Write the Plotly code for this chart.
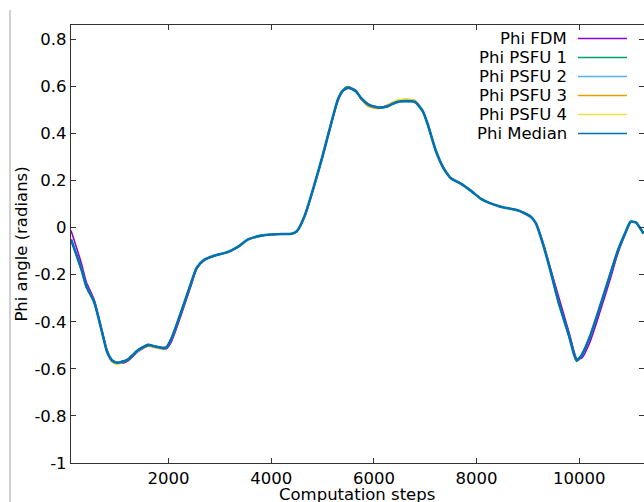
import plotly.graph_objects as go

# ---------------- data ----------------
steps = [100, 300, 400, 550, 700, 800, 900, 1000, 1100, 1200, 1400, 1600, 1800, 1950, 2050,
         2250, 2450, 2550, 2700, 2900, 3150, 3350, 3550, 3800, 4000, 4200, 4400, 4500, 4650,
         4850, 5000, 5200, 5300, 5400, 5500, 5650, 5750, 5900, 6100, 6250, 6450, 6650, 6800,
         6950, 7050, 7200, 7350, 7500, 7700, 7900, 8100, 8450, 8800, 9050, 9150, 9300, 9450,
         9600, 9800, 9900, 9950, 10050, 10200, 10400, 10600, 10750, 10900, 11000, 11100, 11250]

phi_median = [-0.05, -0.175, -0.25, -0.315, -0.44, -0.525, -0.565, -0.574, -0.57, -0.562, -0.522,
              -0.499, -0.508, -0.51, -0.475, -0.355, -0.228, -0.17, -0.136, -0.118, -0.104, -0.082,
              -0.05, -0.034, -0.029, -0.027, -0.026, -0.015, 0.05, 0.19, 0.305, 0.47, 0.545, 0.583,
              0.595, 0.58, 0.55, 0.522, 0.51, 0.515, 0.534, 0.538, 0.534, 0.495, 0.437, 0.33, 0.255,
              0.21, 0.186, 0.155, 0.12, 0.09, 0.074, 0.047, 0.02, -0.075, -0.193, -0.32, -0.46,
              -0.54, -0.565, -0.54, -0.467, -0.337, -0.2, -0.098, -0.02, 0.025, 0.022, -0.025]

phi_fdm = [-0.012, -0.15, -0.232, -0.305, -0.435, -0.52, -0.562, -0.573, -0.576, -0.568, -0.528,
           -0.503, -0.51, -0.515, -0.487, -0.368, -0.238, -0.174, -0.138, -0.119, -0.105, -0.083,
           -0.051, -0.035, -0.029, -0.027, -0.026, -0.017, 0.045, 0.185, 0.3, 0.466, 0.542, 0.581,
           0.593, 0.579, 0.55, 0.522, 0.51, 0.515, 0.533, 0.537, 0.533, 0.497, 0.44, 0.333, 0.257,
           0.211, 0.186, 0.155, 0.121, 0.09, 0.074, 0.048, 0.022, -0.068, -0.182, -0.296, -0.445,
           -0.528, -0.557, -0.554, -0.49, -0.36, -0.22, -0.11, -0.025, 0.024, 0.022, -0.025]

phi_psfu1 = [-0.05, -0.172, -0.252, -0.318, -0.437, -0.528, -0.562, -0.578, -0.566, -0.565, -0.518,
             -0.503, -0.505, -0.514, -0.47, -0.358, -0.225, -0.172, -0.134, -0.12, -0.102, -0.084,
             -0.049, -0.035, -0.028, -0.028, -0.025, -0.016, 0.052, 0.188, 0.307, 0.468, 0.548, 0.587,
             0.6, 0.576, 0.553, 0.518, 0.513, 0.512, 0.537, 0.535, 0.538, 0.492, 0.44, 0.328, 0.257,
             0.208, 0.188, 0.153, 0.122, 0.089, 0.075, 0.046, 0.021, -0.077, -0.19, -0.322, -0.458,
             -0.543, -0.562, -0.543, -0.465, -0.339, -0.198, -0.1, -0.018, 0.026, 0.021, -0.026]

phi_psfu2 = [-0.052, -0.178, -0.247, -0.312, -0.443, -0.522, -0.568, -0.571, -0.574, -0.558, -0.525,
             -0.495, -0.511, -0.507, -0.478, -0.352, -0.231, -0.168, -0.138, -0.116, -0.106, -0.08,
             -0.052, -0.033, -0.03, -0.026, -0.027, -0.014, 0.048, 0.192, 0.302, 0.473, 0.542, 0.58,
             0.592, 0.584, 0.547, 0.526, 0.507, 0.518, 0.531, 0.541, 0.531, 0.498, 0.434, 0.332, 0.253,
             0.212, 0.184, 0.157, 0.118, 0.091, 0.073, 0.048, 0.019, -0.073, -0.196, -0.318, -0.462,
             -0.537, -0.568, -0.537, -0.469, -0.335, -0.202, -0.096, -0.022, 0.024, 0.023, -0.024]

phi_psfu3 = [-0.049, -0.174, -0.251, -0.316, -0.441, -0.527, -0.57, -0.58, -0.568, -0.566, -0.52,
             -0.504, -0.512, -0.513, -0.472, -0.357, -0.226, -0.171, -0.135, -0.119, -0.103, -0.083,
             -0.05, -0.034, -0.029, -0.027, -0.026, -0.015, 0.05, 0.19, 0.306, 0.471, 0.546, 0.586,
             0.598, 0.582, 0.546, 0.515, 0.506, 0.52, 0.54, 0.545, 0.54, 0.496, 0.438, 0.331, 0.256,
             0.21, 0.187, 0.154, 0.121, 0.09, 0.074, 0.047, 0.02, -0.076, -0.194, -0.321, -0.461,
             -0.542, -0.567, -0.541, -0.466, -0.338, -0.2, -0.099, -0.021, 0.025, 0.022, -0.025]

phi_psfu4 = [-0.051, -0.176, -0.249, -0.314, -0.439, -0.524, -0.567, -0.582, -0.572, -0.56, -0.526,
             -0.497, -0.514, -0.509, -0.477, -0.353, -0.23, -0.169, -0.137, -0.117, -0.105, -0.081,
             -0.051, -0.034, -0.029, -0.027, -0.026, -0.015, 0.049, 0.19, 0.304, 0.469, 0.544, 0.584,
             0.596, 0.578, 0.551, 0.52, 0.512, 0.516, 0.542, 0.544, 0.536, 0.494, 0.436, 0.329, 0.254,
             0.211, 0.185, 0.156, 0.119, 0.09, 0.074, 0.047, 0.02, -0.074, -0.192, -0.319, -0.459,
             -0.539, -0.57, -0.539, -0.468, -0.336, -0.201, -0.097, -0.019, 0.025, 0.022, -0.025]

series_names = ["Phi FDM", "Phi PSFU 1", "Phi PSFU 2", "Phi PSFU 3", "Phi PSFU 4", "Phi Median"]
series_values = [phi_fdm, phi_psfu1, phi_psfu2, phi_psfu3, phi_psfu4, phi_median]
series_colors = ["#9400D3", "#009E73", "#56B4E9", "#E69F00", "#F0E442", "#0072B2"]
series_widths = [1.6, 1.6, 1.6, 1.6, 1.6, 2.6]

x_ticks = [2000, 4000, 6000, 8000, 10000]
x_tick_text = ["2000", "4000", "6000", "8000", "10000"]
y_ticks = [-1, -0.8, -0.6, -0.4, -0.2, 0, 0.2, 0.4, 0.6, 0.8]
y_tick_text = ["-1", "-0.8", "-0.6", "-0.4", "-0.2", "0", "0.2", "0.4", "0.6", "0.8"]
x_title = "Computation steps"
y_title = "Phi angle (radians)"

# ---------------- layout constants ----------------
W, H = 644, 502
L, R, T = 71, 0, 25
PLOT_BOTTOM = 463
B = H - PLOT_BOTTOM
PW, PH = W - L - R, H - T - B
FONT = "DejaVu Sans, Verdana, sans-serif"
FS = 16.5

def px(xp):  # page pixel -> paper x
    return (xp - L) / PW

def py(yp):  # page pixel -> paper y
    return (PLOT_BOTTOM - yp) / PH

fig = go.Figure()
for name, vals, col, wd in zip(series_names, series_values, series_colors, series_widths):
    fig.add_trace(go.Scatter(x=steps, y=vals, mode="lines", name=name,
                             line=dict(color=col, width=wd, shape="spline", smoothing=0.6),
                             showlegend=False))

# custom legend (text left, sample line right, as in gnuplot)
shapes = []
annotations = []
row_y = [38.5, 57.5, 76.5, 95.5, 114.5, 133.5]
for name, col, yy in zip(series_names, series_colors, row_y):
    annotations.append(dict(x=px(569), y=py(yy), xref="paper", yref="paper", text=name,
                            showarrow=False, xanchor="right", yanchor="middle",
                            font=dict(family=FONT, size=FS, color="#000000")))
    shapes.append(dict(type="line", xref="paper", yref="paper", x0=px(578), x1=px(627),
                       y0=py(yy), y1=py(yy), line=dict(color=col, width=1.6)))

# x axis title (placed like the reference, partly below the page edge)
annotations.append(dict(x=px(357), y=py(494.5), xref="paper", yref="paper", text=x_title,
                        showarrow=False, xanchor="center", yanchor="middle",
                        font=dict(family=FONT, size=FS, color="#000000")))

# page border line on the far left
shapes.append(dict(type="line", xref="paper", yref="paper", x0=px(10), x1=px(10),
                   y0=py(10), y1=py(510), line=dict(color="#c0c0c0", width=1.5)))

fig.update_layout(
    width=W, height=H,
    margin=dict(l=L, r=R, t=T, b=B, autoexpand=False),
    paper_bgcolor="white", plot_bgcolor="white",
    font=dict(family=FONT, size=FS, color="#000000"),
    shapes=shapes, annotations=annotations,
    xaxis=dict(range=[100, 11260], tickvals=x_ticks, ticktext=x_tick_text, ticks="inside", ticklen=5,
               tickcolor="#333333", showline=True, linecolor="#333333", linewidth=1.2,
               mirror="ticks", showgrid=False, zeroline=False,
               tickfont=dict(family=FONT, size=FS)),
    yaxis=dict(range=[-1, 0.861], tickvals=y_ticks, ticktext=y_tick_text, ticks="inside",
               ticklen=5, tickcolor="#333333", showline=True, linecolor="#333333", linewidth=1.2,
               mirror="ticks", showgrid=False, zeroline=False,
               tickfont=dict(family=FONT, size=FS),
               title=dict(text=y_title, font=dict(family=FONT, size=FS), standoff=2)),
)

fig.write_html("out.html", config={"displayModeBar": False},
               post_script="document.body.style.margin='0';document.body.style.overflow='hidden';")
